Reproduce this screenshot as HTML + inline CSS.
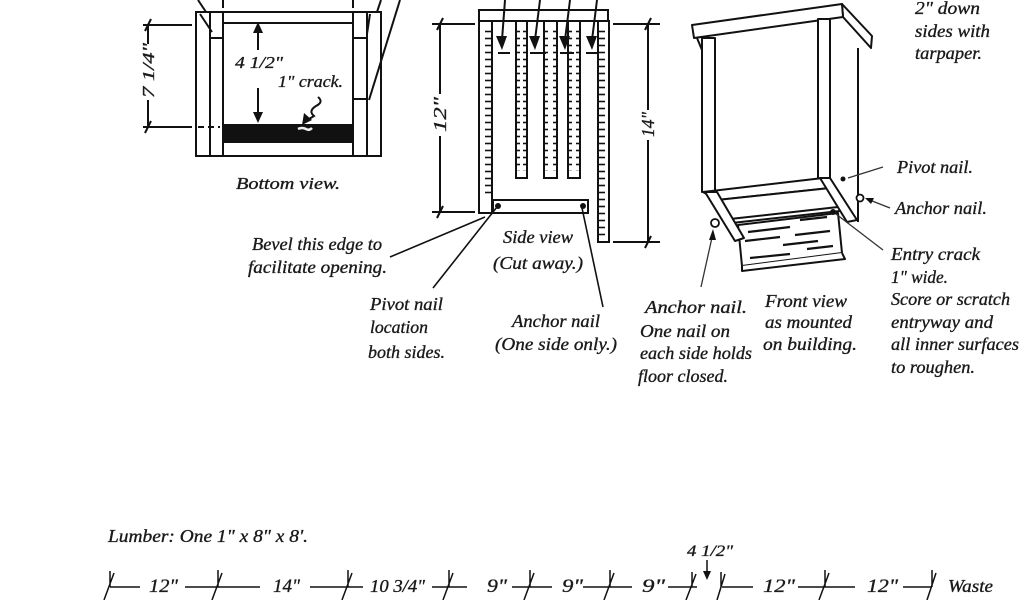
<!DOCTYPE html>
<html><head><meta charset="utf-8"><style>
html,body{margin:0;padding:0;background:#fff;}
svg{display:block;}
text{font-family:"Liberation Serif",serif;font-style:italic;fill:#1a1a1a;stroke:#1a1a1a;stroke-width:0.35;}
</style></head><body>
<svg width="1024" height="600" viewBox="0 0 1024 600" xmlns="http://www.w3.org/2000/svg">
<defs>
<pattern id="teeth" x="0" y="0" width="8" height="7" patternUnits="userSpaceOnUse">
<line x1="0" y1="3.5" x2="8" y2="3.5" stroke="#111" stroke-width="1.6"/>
</pattern>
</defs>
<rect width="1024" height="600" fill="#fff"/>

<!-- ===== Bottom view ===== -->
<g stroke="#111" stroke-width="2" fill="none">
<rect x="196" y="12" width="185" height="144"/>
<line x1="210" y1="12" x2="210" y2="156"/>
<line x1="223" y1="12" x2="223" y2="156"/>
<line x1="353" y1="12" x2="353" y2="156"/>
<line x1="367" y1="12" x2="367" y2="156"/>
<line x1="223" y1="23" x2="353" y2="23"/>
<line x1="210" y1="38" x2="223" y2="38"/>
<line x1="353" y1="38" x2="367" y2="38"/>
<line x1="353" y1="99" x2="367" y2="99"/>
<line x1="223" y1="142" x2="353" y2="142"/>
<line x1="198" y1="0" x2="206" y2="12"/>
<line x1="200" y1="14" x2="212" y2="32"/>
<line x1="223" y1="0" x2="223" y2="8"/>
<line x1="353" y1="0" x2="353" y2="8"/>
<line x1="381" y1="0" x2="377" y2="12"/>
<line x1="370" y1="14" x2="367" y2="34"/>
<line x1="400" y1="0" x2="369" y2="100"/>
</g>
<rect x="223" y="124" width="130" height="18" fill="#111"/>
<path d="M298 129 q4 -2 8 0 q3 2 6 -1" stroke="#eee" stroke-width="2.5" fill="none"/>
<!-- 7 1/4 dim -->
<g stroke="#111" stroke-width="2" fill="none">
<line x1="148" y1="25" x2="148" y2="44"/>
<line x1="148" y1="100" x2="148" y2="128"/>
<line x1="143" y1="25" x2="192" y2="25"/>
<line x1="143" y1="127" x2="192" y2="127"/>
<line x1="198" y1="127" x2="220" y2="127" stroke-dasharray="6 4"/>
<line x1="145" y1="31" x2="151" y2="19"/>
<line x1="145" y1="133" x2="151" y2="121"/>
</g>
<text x="0" y="0" font-size="17" transform="translate(154,98) rotate(-90)" textLength="55" lengthAdjust="spacingAndGlyphs">7 1/4"</text>
<!-- 4 1/2 arrows -->
<g stroke="#111" stroke-width="2" fill="none">
<line x1="258" y1="28" x2="258" y2="50"/>
<line x1="258" y1="88" x2="258" y2="117"/>
<path d="M318 97 q6 5 -2 9 q-8 5 -2 10 l-10 6"/>
</g>
<polygon points="258,22 253,33 263,33" fill="#111"/>
<polygon points="258,123 253,112 263,112" fill="#111"/>
<polygon points="302,125 304,113 312,120" fill="#111"/>
<text x="235" y="68" font-size="17" textLength="48" lengthAdjust="spacingAndGlyphs">4 1/2"</text>
<text x="278" y="87" font-size="17" textLength="65" lengthAdjust="spacingAndGlyphs">1" crack.</text>
<text x="236" y="189" font-size="17" textLength="104" lengthAdjust="spacingAndGlyphs">Bottom  view.</text>

<!-- ===== Side view ===== -->
<g stroke="#111" stroke-width="2" fill="#fff">
<rect x="479" y="10" width="129" height="11"/>
<rect x="479" y="21" width="13" height="192"/>
<rect x="598" y="21" width="11" height="221"/>
<rect x="516" y="21" width="11" height="157"/>
<rect x="544" y="21" width="13" height="157"/>
<rect x="568" y="21" width="12" height="157"/>
<rect x="493" y="200" width="95" height="13"/>
</g>
<rect x="485" y="26" width="7" height="172" fill="url(#teeth)"/>
<rect x="598" y="26" width="7" height="210" fill="url(#teeth)"/>
<rect x="516" y="26" width="4" height="145" fill="url(#teeth)"/>
<rect x="523" y="29" width="4" height="142" fill="url(#teeth)"/>
<rect x="544" y="26" width="4" height="145" fill="url(#teeth)"/>
<rect x="553" y="29" width="4" height="142" fill="url(#teeth)"/>
<rect x="568" y="26" width="4" height="145" fill="url(#teeth)"/>
<rect x="576" y="29" width="4" height="142" fill="url(#teeth)"/>
<g stroke="#111" stroke-width="2" fill="none">
<line x1="505" y1="0" x2="502" y2="40"/>
<line x1="540" y1="0" x2="535" y2="40"/>
<line x1="570" y1="0" x2="565" y2="40"/>
<line x1="597" y1="0" x2="592" y2="40"/>
<line x1="498" y1="53" x2="510" y2="53"/>
<line x1="530" y1="53" x2="546" y2="53"/>
<line x1="560" y1="53" x2="574" y2="53"/>
<line x1="586" y1="53" x2="598" y2="53"/>
</g>
<polygon points="502,50 496,36 507,36" fill="#111"/>
<polygon points="535,50 529,36 540,36" fill="#111"/>
<polygon points="565,50 559,36 570,36" fill="#111"/>
<polygon points="592,50 586,36 597,36" fill="#111"/>
<circle cx="498" cy="206" r="3" fill="#111"/>
<circle cx="583" cy="206" r="3" fill="#111"/>
<!-- dims -->
<g stroke="#111" stroke-width="2" fill="none">
<line x1="440" y1="24" x2="440" y2="94"/>
<line x1="440" y1="136" x2="440" y2="212"/>
<line x1="432" y1="24" x2="475" y2="24"/>
<line x1="432" y1="212" x2="475" y2="212"/>
<line x1="437" y1="30" x2="443" y2="18"/>
<line x1="437" y1="218" x2="443" y2="206"/>
<line x1="648" y1="24" x2="648" y2="110"/>
<line x1="648" y1="140" x2="648" y2="242"/>
<line x1="613" y1="24" x2="660" y2="24"/>
<line x1="613" y1="242" x2="660" y2="242"/>
<line x1="645" y1="30" x2="651" y2="18"/>
<line x1="645" y1="248" x2="651" y2="236"/>
</g>
<text x="0" y="0" font-size="18" transform="translate(446,132) rotate(-90)" textLength="35" lengthAdjust="spacingAndGlyphs">12"</text>
<text x="0" y="0" font-size="18" transform="translate(654,137) rotate(-90)" textLength="25" lengthAdjust="spacingAndGlyphs">14"</text>
<!-- leaders -->
<g stroke="#111" stroke-width="1.6" fill="none">
<line x1="390" y1="257" x2="485" y2="217"/>
<line x1="433" y1="288" x2="497" y2="207"/>
<line x1="603" y1="307" x2="582" y2="208"/>
</g>
<text x="252" y="250" font-size="18" textLength="130" lengthAdjust="spacingAndGlyphs">Bevel this edge to</text>
<text x="248" y="273" font-size="18" textLength="139" lengthAdjust="spacingAndGlyphs">facilitate opening.</text>
<text x="503" y="243" font-size="18" textLength="70" lengthAdjust="spacingAndGlyphs">Side view</text>
<text x="493" y="269" font-size="18" textLength="90" lengthAdjust="spacingAndGlyphs">(Cut away.)</text>
<text x="370" y="310" font-size="18" textLength="73" lengthAdjust="spacingAndGlyphs">Pivot nail</text>
<text x="370" y="333" font-size="18" textLength="58" lengthAdjust="spacingAndGlyphs">location</text>
<text x="368" y="358" font-size="18" textLength="77" lengthAdjust="spacingAndGlyphs">both sides.</text>
<text x="512" y="327" font-size="18" textLength="88" lengthAdjust="spacingAndGlyphs">Anchor nail</text>
<text x="495" y="350" font-size="18" textLength="122" lengthAdjust="spacingAndGlyphs">(One side only.)</text>

<!-- ===== Front view ===== -->
<g stroke="#111" stroke-width="2" fill="#fff" stroke-linejoin="round">
<line x1="858" y1="48" x2="858" y2="222"/>
<polygon points="842,4 872,36 871,48 843,17"/>
<polygon points="692,25 842,4 843,17 694,38"/>
<line x1="697" y1="38" x2="702" y2="50"/>
<rect x="702" y="38" width="13" height="154"/>
<rect x="818" y="19" width="12" height="160"/>
<polygon points="703,192 823,178 830,188 717,200"/>
<polygon points="717,200 830,188 838,207 730,219"/>
<line x1="732" y1="223" x2="840" y2="211"/>
<polygon points="738,225 838,213 842,253 742,266"/>
<polyline points="742,266 742,271 845,259 842,253"/>
<polygon points="705,192 717,192 744,238 735,241"/>
<polygon points="820,178 830,178 857,220 847,222"/>
</g>
<g stroke="#111" stroke-width="2.2" fill="none">
<line x1="748" y1="232" x2="790" y2="227"/>
<line x1="800" y1="220" x2="827" y2="217"/>
<line x1="745" y1="241" x2="780" y2="237"/>
<line x1="795" y1="235" x2="830" y2="231"/>
<line x1="783" y1="245" x2="818" y2="241"/>
<line x1="750" y1="258" x2="790" y2="254"/>
<line x1="807" y1="249" x2="833" y2="246"/>
</g>
<circle cx="715" cy="223" r="4" fill="#fff" stroke="#111" stroke-width="1.8"/>
<circle cx="860" cy="198" r="3.5" fill="#fff" stroke="#111" stroke-width="1.8"/>
<circle cx="843" cy="179" r="2.5" fill="#111"/>
<circle cx="833" cy="212" r="3" fill="#111"/>
<g stroke="#333" stroke-width="1.3" fill="none">
<line x1="701" y1="287" x2="713" y2="233"/>
<line x1="883" y1="167" x2="848" y2="178"/>
<line x1="890" y1="208" x2="867" y2="199"/>
<line x1="883" y1="250" x2="836" y2="214"/>
</g>
<polygon points="713,229 709,240 716,240" fill="#111"/>
<polygon points="865,198 874,198 871,204" fill="#111"/>
<text x="915" y="14" font-size="18" textLength="65" lengthAdjust="spacingAndGlyphs">2" down</text>
<text x="915" y="37" font-size="18" textLength="75" lengthAdjust="spacingAndGlyphs">sides with</text>
<text x="915" y="59" font-size="18" textLength="67" lengthAdjust="spacingAndGlyphs">tarpaper.</text>
<text x="897" y="173" font-size="18" textLength="76" lengthAdjust="spacingAndGlyphs">Pivot nail.</text>
<text x="895" y="214" font-size="18" textLength="92" lengthAdjust="spacingAndGlyphs">Anchor nail.</text>
<text x="891" y="260" font-size="18" textLength="89" lengthAdjust="spacingAndGlyphs">Entry crack</text>
<text x="891" y="283" font-size="18" textLength="57" lengthAdjust="spacingAndGlyphs">1" wide.</text>
<text x="891" y="305" font-size="18" textLength="119" lengthAdjust="spacingAndGlyphs">Score or scratch</text>
<text x="891" y="328" font-size="18" textLength="102" lengthAdjust="spacingAndGlyphs">entryway and</text>
<text x="891" y="350" font-size="18" textLength="128" lengthAdjust="spacingAndGlyphs">all inner surfaces</text>
<text x="891" y="373" font-size="18" textLength="84" lengthAdjust="spacingAndGlyphs">to roughen.</text>
<text x="645" y="313" font-size="18" textLength="102" lengthAdjust="spacingAndGlyphs">Anchor nail.</text>
<text x="640" y="337" font-size="18" textLength="90" lengthAdjust="spacingAndGlyphs">One nail on</text>
<text x="640" y="359" font-size="18" textLength="112" lengthAdjust="spacingAndGlyphs">each side holds</text>
<text x="638" y="382" font-size="18" textLength="90" lengthAdjust="spacingAndGlyphs">floor closed.</text>
<text x="765" y="307" font-size="18" textLength="82" lengthAdjust="spacingAndGlyphs">Front view</text>
<text x="765" y="328" font-size="18" textLength="87" lengthAdjust="spacingAndGlyphs">as mounted</text>
<text x="763" y="350" font-size="18" textLength="94" lengthAdjust="spacingAndGlyphs">on building.</text>

<!-- ===== Lumber ===== -->
<text x="108" y="542" font-size="18" textLength="200" lengthAdjust="spacingAndGlyphs">Lumber: One 1" x 8" x 8'.</text>
<g stroke="#111" stroke-width="1.6" fill="none">
<line x1="110" y1="587" x2="140" y2="587"/>
<line x1="185" y1="587" x2="260" y2="587"/>
<line x1="310" y1="587" x2="363" y2="587"/>
<line x1="432" y1="587" x2="467" y2="587"/>
<line x1="512" y1="587" x2="552" y2="587"/>
<line x1="583" y1="587" x2="632" y2="587"/>
<line x1="668" y1="587" x2="697" y2="587"/>
<line x1="722" y1="587" x2="753" y2="587"/>
<line x1="798" y1="587" x2="855" y2="587"/>
<line x1="903" y1="587" x2="932" y2="587"/>
</g>
<g stroke="#111" stroke-width="1.5" fill="none">
<path d="M110 571 v16 M104 600 L114 573"/>
<path d="M218 570 v17 M212 600 L222 573"/>
<path d="M348 570 v17 M342 600 L352 573"/>
<path d="M449 570 v17 M443 600 L453 573"/>
<path d="M530 570 v17 M524 600 L534 573"/>
<path d="M610 570 v17 M604 600 L614 573"/>
<path d="M692 572 v15 M686 600 L696 574"/>
<path d="M721 572 v15 M717 600 L725 574"/>
<path d="M825 570 v17 M819 600 L829 573"/>
<path d="M932 570 v17 M927 600 L936 573"/>
<line x1="707" y1="560" x2="707" y2="572"/>
</g>
<polygon points="707,580 703,571 711,571" fill="#111"/>
<text x="149" y="592" font-size="19" textLength="29" lengthAdjust="spacingAndGlyphs">12"</text>
<text x="273" y="592" font-size="19" textLength="27" lengthAdjust="spacingAndGlyphs">14"</text>
<text x="370" y="592" font-size="18" textLength="55" lengthAdjust="spacingAndGlyphs">10 3/4"</text>
<text x="487" y="592" font-size="19" textLength="20" lengthAdjust="spacingAndGlyphs">9"</text>
<text x="562" y="592" font-size="19" textLength="21" lengthAdjust="spacingAndGlyphs">9"</text>
<text x="642" y="592" font-size="19" textLength="23" lengthAdjust="spacingAndGlyphs">9"</text>
<text x="763" y="592" font-size="19" textLength="32" lengthAdjust="spacingAndGlyphs">12"</text>
<text x="867" y="592" font-size="19" textLength="31" lengthAdjust="spacingAndGlyphs">12"</text>
<text x="948" y="592" font-size="18" textLength="45" lengthAdjust="spacingAndGlyphs">Waste</text>
<text x="687" y="556" font-size="16" textLength="46" lengthAdjust="spacingAndGlyphs">4 1/2"</text>
</svg>
</body></html>
